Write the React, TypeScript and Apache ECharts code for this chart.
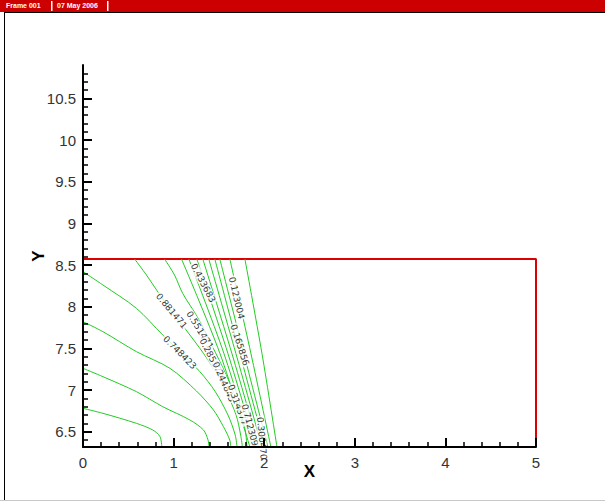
import React, { useEffect, useRef } from "react";
import * as echarts from "echarts";

// ---- data ----
const xRange = [0, 5];
const yRange = [6.316, 10.9];
const yMajorTicks = [6.5, 7, 7.5, 8, 8.5, 9, 9.5, 10, 10.5];
const yMinorTicks = [
  6.4, 6.6, 6.7, 6.8, 6.9, 7.1, 7.2, 7.3, 7.4, 7.6, 7.7, 7.8, 7.9, 8.1, 8.2, 8.3, 8.4,
  8.6, 8.7, 8.8, 8.9, 9.1, 9.2, 9.3, 9.4, 9.6, 9.7, 9.8, 9.9, 10.1, 10.2, 10.3, 10.4,
  10.6, 10.7, 10.8,
];

const line1 = [[0, 6.78], [0.22, 6.72], [0.59, 6.6], [0.77, 6.52], [0.85, 6.44], [0.87, 6.316]];
const line2 = [[0, 7.26], [0.22, 7.16], [0.59, 6.98], [0.88, 6.8], [1.18, 6.64], [1.33, 6.52], [1.38, 6.4], [1.39, 6.316]];
const line3 = [[0, 7.82], [0.22, 7.7], [0.59, 7.46], [0.96, 7.26], [1.25, 6.99], [1.44, 6.76], [1.55, 6.56], [1.62, 6.4], [1.63, 6.316]];
const line4 = [[0, 8.42], [0.22, 8.26], [0.59, 7.98], [0.88, 7.66], [1.07, 7.46], [1.29, 7.22], [1.46, 6.98], [1.6, 6.7], [1.68, 6.46], [1.7, 6.316]];
const line5 = [[0.57, 8.572], [0.7, 8.38], [0.85, 8.14], [0.98, 7.94], [1.18, 7.66], [1.38, 7.36], [1.57, 7.0], [1.69, 6.7], [1.74, 6.46], [1.76, 6.316]];
const line6 = [[0.9, 8.572], [1.01, 8.38], [1.1, 8.16], [1.26, 7.88], [1.42, 7.54], [1.58, 7.18], [1.71, 6.82], [1.79, 6.52], [1.81, 6.316]];
const line7 = [[1.087, 8.572], [1.511, 7.44], [1.842, 6.316]];
const line8 = [[1.168, 8.572], [1.555, 7.44], [1.875, 6.316]];
const line9 = [[1.256, 8.572], [1.599, 7.44], [1.908, 6.316]];
const line10 = [[1.322, 8.572], [1.643, 7.44], [1.942, 6.316]];
const line11 = [[1.388, 8.572], [1.687, 7.44], [1.975, 6.316]];
const line12 = [[1.455, 8.572], [1.731, 7.44], [2.008, 6.316]];
const line13 = [[1.51, 8.572], [1.775, 7.44], [2.041, 6.316]];
const line14 = [[1.621, 8.572], [1.853, 7.44], [2.074, 6.316]];
const line15 = [[1.787, 8.572], [1.975, 7.44], [2.141, 6.316]];
const contourLines = [line1, line2, line3, line4, line5, line6, line7, line8, line9, line10, line11, line12, line13, line14, line15];

const boundary = [[0, 8.572], [5, 8.572], [5, 6.316]];

// [x, y, angle, text]
const contourLabels: [number, number, number, string][] = [
  [0.977, 7.949, -50, "0.881471"],
  [1.068, 7.45, -45, "0.748423"],
  [1.326, 8.285, -62, "0.433683"],
  [1.695, 8.105, -77, "0.123004"],
  [1.731, 7.54, -72, "0.165856"],
  [1.29, 7.72, -58, "0.551471"],
  [1.422, 7.384, -62, "0.285572"],
  [1.555, 7.096, -66, "0.244845"],
  [1.709, 6.82, -70, "0.314377"],
  [1.842, 6.58, -75, "0.712309"],
  [1.973, 6.42, -85, "0.300470"],
];

const FONT = "'Liberation Sans', Arial, sans-serif";

export default function App() {
  const ref = useRef<HTMLDivElement>(null);
  useEffect(() => {
    if (!ref.current) return;
    const chart = echarts.init(ref.current, undefined, { renderer: "svg" });
    const option: any = {
      animation: false,
      backgroundColor: "#fff",
      grid: { left: 83, right: 69, top: 65, bottom: 55, containLabel: false },
      xAxis: {
        type: "value",
        min: xRange[0],
        max: xRange[1],
        interval: 1,
        z: 10,
        name: "X",
        nameLocation: "middle",
        nameGap: 16,
        nameMoveOverlap: false,
        nameTextStyle: { fontSize: 17, fontWeight: "bold", color: "#000", fontFamily: FONT },
        axisLine: { show: true, onZero: false, lineStyle: { color: "#000", width: 2 } },
        axisTick: { show: true, inside: true, length: 9, lineStyle: { color: "#000", width: 2 } },
        minorTick: { show: true, splitNumber: 5, length: 5, lineStyle: { color: "#000", width: 1.5 } },
        axisLabel: { fontSize: 15, color: "#333", margin: 8, fontFamily: FONT },
        splitLine: { show: false },
        minorSplitLine: { show: false },
      },
      yAxis: [
        {
          type: "value",
          min: yRange[0],
          max: yRange[1],
          z: 10,
          name: "Y",
          nameLocation: "middle",
          nameRotate: 90,
          nameGap: 36,
          nameMoveOverlap: false,
          nameTextStyle: { fontSize: 17, fontWeight: "bold", color: "#000", fontFamily: FONT },
          axisLine: { show: true, onZero: false, lineStyle: { color: "#000", width: 2 } },
          axisTick: { show: true, inside: true, length: 9, customValues: yMajorTicks, lineStyle: { color: "#000", width: 2 } },
          axisLabel: { fontSize: 15, color: "#333", margin: 7, fontFamily: FONT, customValues: yMajorTicks },
          splitLine: { show: false },
        },
        {
          type: "value",
          min: yRange[0],
          max: yRange[1],
          z: 10,
          position: "left",
          axisLine: { show: false, onZero: false },
          axisTick: { show: true, inside: true, length: 5, customValues: yMinorTicks, lineStyle: { color: "#000", width: 1.5 } },
          axisLabel: { show: false },
          splitLine: { show: false },
        },
      ],
      series: [
        ...contourLines.map((d) => ({
          type: "line",
          data: d,
          smooth: 0.3,
          symbol: "none",
          silent: true,
          z: 2,
          lineStyle: { color: "#22cc22", width: 1 },
        })),
        {
          type: "line",
          data: boundary,
          symbol: "none",
          z: 1,
          lineStyle: { color: "#dd0000", width: 2 },
        },
        {
          type: "scatter",
          symbolSize: 0,
          z: 5,
          data: contourLabels.map(([x, y, a, t]) => ({
            value: [x, y],
            label: { formatter: t, rotate: a },
          })),
          label: {
            show: true,
            position: "inside",
            fontSize: 9,
            color: "#000",
            fontFamily: "'DejaVu Sans', sans-serif",
            backgroundColor: "#fff",
            padding: [0, 1],
          },
        },
      ],
      graphic: [
        { type: "rect", shape: { x: 0, y: 0, width: 605, height: 12 }, style: { fill: "#cc0000" } },
        { type: "line", shape: { x1: 4, y1: 12.5, x2: 605, y2: 12.5 }, style: { stroke: "#000", lineWidth: 1 } },
        { type: "line", shape: { x1: 4.5, y1: 12, x2: 4.5, y2: 500 }, style: { stroke: "#000", lineWidth: 1 } },
        { type: "line", shape: { x1: 0, y1: 500.5, x2: 605, y2: 500.5 }, style: { stroke: "#c8c8c8", lineWidth: 1 } },
        { type: "text", x: 6, y: 2, style: { text: "Frame 001", fill: "#fff", font: "bold 7px 'Liberation Sans'" } },
        { type: "rect", shape: { x: 51, y: 1, width: 1.5, height: 10 }, style: { fill: "#fff" } },
        { type: "text", x: 57, y: 2, style: { text: "07 May 2006", fill: "#fff", font: "bold 7px 'Liberation Sans'" } },
        { type: "rect", shape: { x: 107, y: 1, width: 1.5, height: 10 }, style: { fill: "#fff" } },
      ],
    };
    chart.setOption(option);
    return () => chart.dispose();
  }, []);
  return (
    <div
      ref={ref}
      style={{ position: "fixed", left: 0, top: 0, width: 605, height: 502, background: "#fff" }}
    />
  );
}
